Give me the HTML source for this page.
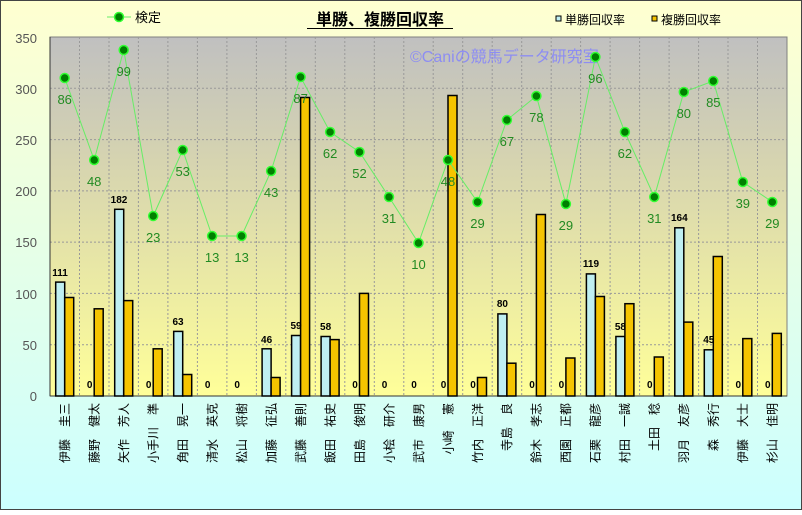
<!DOCTYPE html><html><head><meta charset="utf-8"><style>
body{margin:0;width:802px;height:510px;overflow:hidden;font-family:"Liberation Sans","Noto Sans CJK JP",sans-serif}
</style></head><body>
<svg width="802" height="510" xmlns="http://www.w3.org/2000/svg" font-family="Liberation Sans, Noto Sans CJK JP, sans-serif">
<defs>
<linearGradient id="bg" x1="0" y1="0" x2="0" y2="1"><stop offset="0" stop-color="#ffffd0"/><stop offset="1" stop-color="#ccffff"/></linearGradient>
<linearGradient id="pl" x1="0" y1="0" x2="0" y2="1"><stop offset="0" stop-color="#c0c0c0"/><stop offset="0.35" stop-color="#d6d4b0"/><stop offset="1" stop-color="#ffff99"/></linearGradient>
</defs>
<rect x="0.5" y="0.5" width="801" height="509" fill="url(#bg)" stroke="#444"/>
<rect x="50" y="37" width="737" height="359" fill="url(#pl)" stroke="#808080"/>
<g stroke="#999" stroke-dasharray="2,2" stroke-width="1">
<line x1="50" x2="787" y1="88.3" y2="88.3"/><line x1="50" x2="787" y1="139.6" y2="139.6"/><line x1="50" x2="787" y1="190.9" y2="190.9"/><line x1="50" x2="787" y1="242.1" y2="242.1"/><line x1="50" x2="787" y1="293.4" y2="293.4"/><line x1="50" x2="787" y1="344.7" y2="344.7"/>
<line x1="79.5" x2="79.5" y1="37" y2="396"/><line x1="109" x2="109" y1="37" y2="396"/><line x1="138.4" x2="138.4" y1="37" y2="396"/><line x1="167.9" x2="167.9" y1="37" y2="396"/><line x1="197.4" x2="197.4" y1="37" y2="396"/><line x1="226.9" x2="226.9" y1="37" y2="396"/><line x1="256.4" x2="256.4" y1="37" y2="396"/><line x1="285.8" x2="285.8" y1="37" y2="396"/><line x1="315.3" x2="315.3" y1="37" y2="396"/><line x1="344.8" x2="344.8" y1="37" y2="396"/><line x1="374.3" x2="374.3" y1="37" y2="396"/><line x1="403.8" x2="403.8" y1="37" y2="396"/><line x1="433.2" x2="433.2" y1="37" y2="396"/><line x1="462.7" x2="462.7" y1="37" y2="396"/><line x1="492.2" x2="492.2" y1="37" y2="396"/><line x1="521.7" x2="521.7" y1="37" y2="396"/><line x1="551.2" x2="551.2" y1="37" y2="396"/><line x1="580.6" x2="580.6" y1="37" y2="396"/><line x1="610.1" x2="610.1" y1="37" y2="396"/><line x1="639.6" x2="639.6" y1="37" y2="396"/><line x1="669.1" x2="669.1" y1="37" y2="396"/><line x1="698.6" x2="698.6" y1="37" y2="396"/><line x1="728" x2="728" y1="37" y2="396"/><line x1="757.5" x2="757.5" y1="37" y2="396"/>
</g>
<line x1="50" y1="37" x2="50" y2="396" stroke="#333"/><line x1="50" y1="396" x2="787" y2="396" stroke="#333"/>
<g font-size="13" fill="#555" text-anchor="end">
<text x="37" y="43">350</text><text x="37" y="94">300</text><text x="37" y="145">250</text><text x="37" y="196">200</text><text x="37" y="247">150</text><text x="37" y="299">100</text><text x="37" y="350">50</text><text x="37" y="401">0</text>
</g>
<text x="410" y="62" font-size="16" fill="#8080ff" fill-opacity="0.8">©Caniの競馬データ研究室</text>
<g stroke="#000" stroke-width="1.5">
<g fill="#bfeff2">
<rect x="55.7" y="282.1" width="9" height="113.9"/><rect x="114.7" y="209.3" width="9" height="186.7"/><rect x="173.7" y="331.4" width="9" height="64.6"/><rect x="262.1" y="348.8" width="9" height="47.2"/><rect x="291.6" y="335.5" width="9" height="60.5"/><rect x="321.1" y="336.5" width="9" height="59.5"/><rect x="497.9" y="313.9" width="9" height="82.1"/><rect x="586.4" y="273.9" width="9" height="122.1"/><rect x="615.9" y="336.5" width="9" height="59.5"/><rect x="674.8" y="227.8" width="9" height="168.2"/><rect x="704.3" y="349.8" width="9" height="46.2"/>
</g>
<g fill="#f5c400">
<rect x="64.7" y="297.5" width="9" height="98.5"/><rect x="94.2" y="308.8" width="9" height="87.2"/><rect x="123.7" y="300.6" width="9" height="95.4"/><rect x="153.2" y="348.8" width="9" height="47.2"/><rect x="182.7" y="374.5" width="9" height="21.5"/><rect x="271.1" y="377.5" width="9" height="18.5"/><rect x="300.6" y="97.5" width="9" height="298.5"/><rect x="330.1" y="339.6" width="9" height="56.4"/><rect x="359.5" y="293.4" width="9" height="102.6"/><rect x="448" y="95.5" width="9" height="300.5"/><rect x="477.5" y="377.5" width="9" height="18.5"/><rect x="506.9" y="363.2" width="9" height="32.8"/><rect x="536.4" y="214.5" width="9" height="181.5"/><rect x="565.9" y="358" width="9" height="38"/><rect x="595.4" y="296.5" width="9" height="99.5"/><rect x="624.9" y="303.7" width="9" height="92.3"/><rect x="654.3" y="357" width="9" height="39"/><rect x="683.8" y="322.1" width="9" height="73.9"/><rect x="713.3" y="256.5" width="9" height="139.5"/><rect x="742.8" y="338.6" width="9" height="57.4"/><rect x="772.3" y="333.4" width="9" height="62.6"/>
</g></g>
<g font-size="10" font-weight="bold" fill="#000" text-anchor="middle">
<text x="60" y="276">111</text><text x="89.7" y="388">0</text><text x="119" y="203">182</text><text x="148.7" y="388">0</text><text x="178" y="325">63</text><text x="207.6" y="388">0</text><text x="237.1" y="388">0</text><text x="266.6" y="343">46</text><text x="296" y="329">59</text><text x="325.6" y="330">58</text><text x="355" y="388">0</text><text x="384.5" y="388">0</text><text x="414" y="388">0</text><text x="443.5" y="388">0</text><text x="473" y="388">0</text><text x="502.4" y="307">80</text><text x="532" y="388">0</text><text x="561.4" y="388">0</text><text x="591" y="267">119</text><text x="620.4" y="330">58</text><text x="649.8" y="388">0</text><text x="679.3" y="221">164</text><text x="708.8" y="343">45</text><text x="738.3" y="388">0</text><text x="767.8" y="388">0</text>
</g>
<polyline fill="none" stroke="#66ee66" stroke-width="1" points="64.7,78 94.2,160 123.7,50 153.2,216 182.7,150 212.1,236 241.6,236 271.1,171 300.6,77 330.1,132 359.5,152 389,197 418.5,243 448,160 477.5,202 506.9,120 536.4,96 565.9,204 595.4,57 624.9,132 654.3,197 683.8,92 713.3,81 742.8,182 772.3,202"/>
<g fill="#008000" stroke="#33ff33" stroke-width="1.5">
<circle cx="64.7" cy="78" r="4.5"/><circle cx="94.2" cy="160" r="4.5"/><circle cx="123.7" cy="50" r="4.5"/><circle cx="153.2" cy="216" r="4.5"/><circle cx="182.7" cy="150" r="4.5"/><circle cx="212.1" cy="236" r="4.5"/><circle cx="241.6" cy="236" r="4.5"/><circle cx="271.1" cy="171" r="4.5"/><circle cx="300.6" cy="77" r="4.5"/><circle cx="330.1" cy="132" r="4.5"/><circle cx="359.5" cy="152" r="4.5"/><circle cx="389" cy="197" r="4.5"/><circle cx="418.5" cy="243" r="4.5"/><circle cx="448" cy="160" r="4.5"/><circle cx="477.5" cy="202" r="4.5"/><circle cx="506.9" cy="120" r="4.5"/><circle cx="536.4" cy="96" r="4.5"/><circle cx="565.9" cy="204" r="4.5"/><circle cx="595.4" cy="57" r="4.5"/><circle cx="624.9" cy="132" r="4.5"/><circle cx="654.3" cy="197" r="4.5"/><circle cx="683.8" cy="92" r="4.5"/><circle cx="713.3" cy="81" r="4.5"/><circle cx="742.8" cy="182" r="4.5"/><circle cx="772.3" cy="202" r="4.5"/>
</g>
<g font-size="13" fill="#228b22" text-anchor="middle">
<text x="64.7" y="104">86</text><text x="94.2" y="186">48</text><text x="123.7" y="76">99</text><text x="153.2" y="242">23</text><text x="182.7" y="176">53</text><text x="212.1" y="262">13</text><text x="241.6" y="262">13</text><text x="271.1" y="197">43</text><text x="300.6" y="103">87</text><text x="330.1" y="158">62</text><text x="359.5" y="178">52</text><text x="389" y="223">31</text><text x="418.5" y="269">10</text><text x="448" y="186">48</text><text x="477.5" y="228">29</text><text x="506.9" y="146">67</text><text x="536.4" y="122">78</text><text x="565.9" y="230">29</text><text x="595.4" y="83">96</text><text x="624.9" y="158">62</text><text x="654.3" y="223">31</text><text x="683.8" y="118">80</text><text x="713.3" y="107">85</text><text x="742.8" y="208">39</text><text x="772.3" y="228">29</text>
</g>
<g font-size="12" fill="#000" text-anchor="end">
<text transform="translate(69,403) rotate(-90)">伊藤　圭三</text>
<text transform="translate(98.5,403) rotate(-90)">藤野　健太</text>
<text transform="translate(128,403) rotate(-90)">矢作　芳人</text>
<text transform="translate(157.5,403) rotate(-90)">小手川　準</text>
<text transform="translate(187,403) rotate(-90)">角田　晃一</text>
<text transform="translate(216.4,403) rotate(-90)">清水　英克</text>
<text transform="translate(245.9,403) rotate(-90)">松山　将樹</text>
<text transform="translate(275.4,403) rotate(-90)">加藤　征弘</text>
<text transform="translate(304.9,403) rotate(-90)">武藤　善則</text>
<text transform="translate(334.4,403) rotate(-90)">飯田　祐史</text>
<text transform="translate(363.8,403) rotate(-90)">田島　俊明</text>
<text transform="translate(393.3,403) rotate(-90)">小桧　研介</text>
<text transform="translate(422.8,403) rotate(-90)">武市　康男</text>
<text transform="translate(452.3,403) rotate(-90)">小崎　 憲</text>
<text transform="translate(481.8,403) rotate(-90)">竹内　正洋</text>
<text transform="translate(511.2,403) rotate(-90)">寺島　良</text>
<text transform="translate(540.7,403) rotate(-90)">鈴木　孝志</text>
<text transform="translate(570.2,403) rotate(-90)">西園　正都</text>
<text transform="translate(599.7,403) rotate(-90)">石栗　龍彦</text>
<text transform="translate(629.2,403) rotate(-90)">村田　一誠</text>
<text transform="translate(658.6,403) rotate(-90)">土田　稔</text>
<text transform="translate(688.1,403) rotate(-90)">羽月　友彦</text>
<text transform="translate(717.6,403) rotate(-90)">森　秀行</text>
<text transform="translate(747.1,403) rotate(-90)">伊藤　大士</text>
<text transform="translate(776.6,403) rotate(-90)">杉山　佳明</text>
</g>
<line x1="107" y1="17" x2="131" y2="17" stroke="#66ee66"/><circle cx="119" cy="17" r="4.5" fill="#008000" stroke="#33ff33" stroke-width="1.5"/>
<text x="135" y="22" font-size="13" fill="#000">検定</text>
<text x="380" y="25" font-size="16" font-weight="bold" text-anchor="middle" fill="#000">単勝、複勝回収率</text>
<line x1="307" y1="28.5" x2="453" y2="28.5" stroke="#000" stroke-width="1"/>
<rect x="556" y="16" width="5" height="5" fill="#bfeff2" stroke="#000"/>
<text x="565" y="24" font-size="12" fill="#000">単勝回収率</text>
<rect x="652" y="16" width="5" height="5" fill="#f5c400" stroke="#000"/>
<text x="661" y="24" font-size="12" fill="#000">複勝回収率</text>
</svg>
</body></html>
